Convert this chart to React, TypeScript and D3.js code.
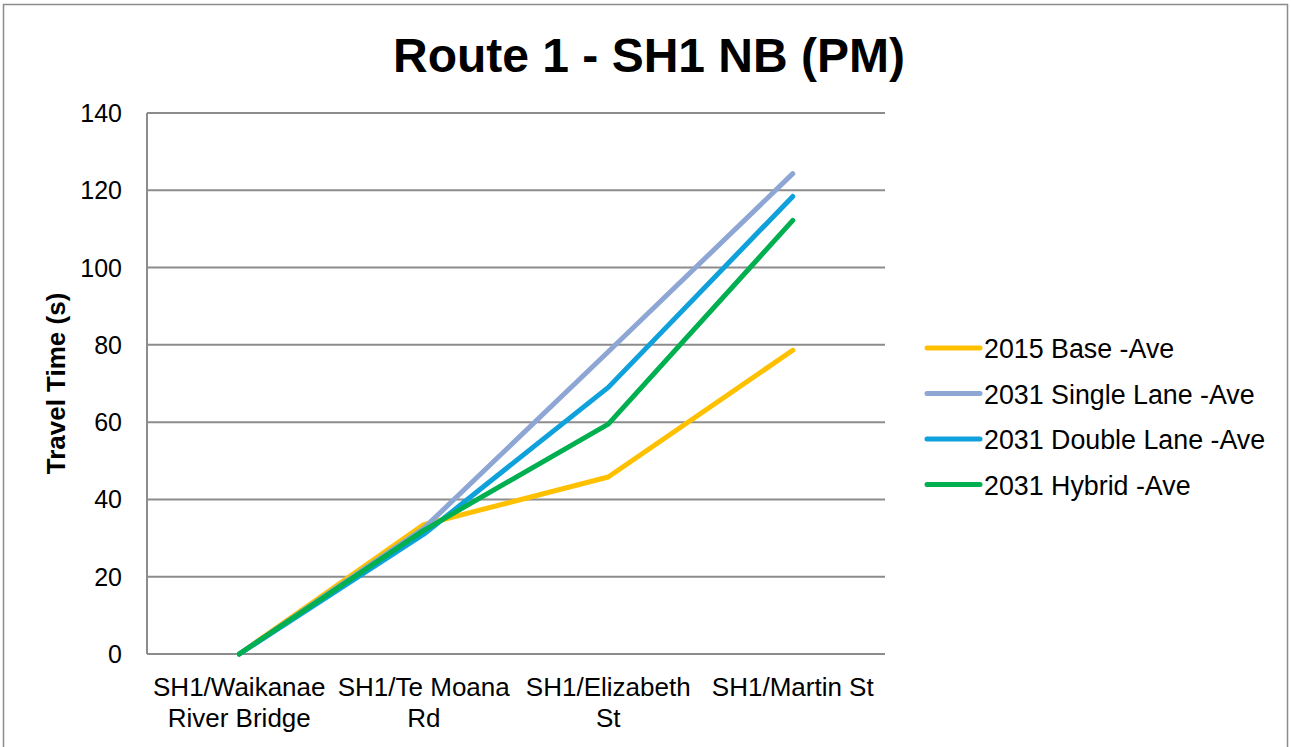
import { useRef, useEffect } from "react";
import * as d3 from "d3";

const categories = [
  ["SH1/Waikanae", "River Bridge"],
  ["SH1/Te Moana", "Rd"],
  ["SH1/Elizabeth", "St"],
  ["SH1/Martin St"],
];
const seriesNames = [
  "2015 Base -Ave",
  "2031 Single Lane -Ave",
  "2031 Double Lane -Ave",
  "2031 Hybrid -Ave",
];
const base2015 = [0, 33.5, 45.8, 78.6];
const single2031 = [0, 32.5, 78.2, 124.3];
const double2031 = [0, 31, 69, 118.4];
const hybrid2031 = [0, 32, 59.5, 112.2];
const yTicks = [0, 20, 40, 60, 80, 100, 120, 140];
const colors = ["#FFC000", "#8EA6D3", "#0EA1DB", "#00B050"];

export default function App() {
  const ref = useRef<SVGSVGElement>(null);

  useEffect(() => {
    if (!ref.current) return;
    const width = 1291;
    const height = 747;
    const marginLeft = 147;
    const plotRight = 885;
    const marginTop = 113;
    const plotBottom = 654;
    const font = "'Liberation Sans', Arial, sans-serif";

    const svg = d3.select(ref.current);
    svg.selectAll("*").remove();
    svg.attr("width", width).attr("height", height);

    svg.append("rect")
      .attr("x", 0).attr("y", 0).attr("width", width).attr("height", height)
      .attr("fill", "#fff");
    svg.append("rect")
      .attr("x", 3.5).attr("y", 4.5).attr("width", 1284).attr("height", 760)
      .attr("fill", "none").attr("stroke", "#8c8c8c").attr("stroke-width", 1.5);

    const x = d3.scaleBand<number>()
      .domain(categories.map((_, i) => i))
      .range([marginLeft, plotRight]);
    const y = d3.scaleLinear().domain([0, 140]).range([plotBottom, marginTop]);

    // grid lines
    svg.append("g")
      .selectAll("line")
      .data(yTicks)
      .join("line")
      .attr("x1", marginLeft).attr("x2", plotRight)
      .attr("y1", (d) => y(d)).attr("y2", (d) => y(d))
      .attr("stroke", "#8c8c8c").attr("stroke-width", 2);

    svg.append("line")
      .attr("x1", marginLeft).attr("x2", marginLeft)
      .attr("y1", marginTop).attr("y2", plotBottom)
      .attr("stroke", "#8c8c8c").attr("stroke-width", 2);

    // y tick labels
    svg.append("g")
      .selectAll("text")
      .data(yTicks)
      .join("text")
      .attr("x", 122).attr("y", (d) => y(d) + 9)
      .attr("text-anchor", "end")
      .attr("font-family", font).attr("font-size", 25)
      .text((d) => d);

    // category labels
    const cat = svg.append("g")
      .selectAll("text")
      .data(categories)
      .join("text")
      .attr("text-anchor", "middle")
      .attr("font-family", font).attr("font-size", 26);
    cat.each(function (lines, i) {
      d3.select(this)
        .selectAll("tspan")
        .data(lines)
        .join("tspan")
        .attr("x", x(i)! + x.bandwidth() / 2)
        .attr("y", (_, j) => 696 + j * 31)
        .text((d) => d);
    });

    // axis title
    svg.append("text")
      .attr("transform", `translate(65,${(marginTop + plotBottom) / 2}) rotate(-90)`)
      .attr("text-anchor", "middle")
      .attr("font-family", font).attr("font-size", 26).attr("font-weight", "bold")
      .text("Travel Time (s)");

    // title
    svg.append("text")
      .attr("x", 649).attr("y", 72)
      .attr("text-anchor", "middle")
      .attr("font-family", font).attr("font-size", 48).attr("font-weight", "bold")
      .text("Route 1 - SH1 NB (PM)");

    const series = [base2015, single2031, double2031, hybrid2031];
    const line = d3.line<number>()
      .x((_, i) => x(i)! + x.bandwidth() / 2)
      .y((d) => y(d));

    svg.append("g")
      .selectAll("path")
      .data(series)
      .join("path")
      .attr("d", (d) => line(d))
      .attr("fill", "none")
      .attr("stroke", (_, i) => colors[i])
      .attr("stroke-width", 5)
      .attr("stroke-linecap", "round")
      .attr("stroke-linejoin", "round");

    // legend
    const legend = svg.append("g")
      .selectAll("g")
      .data(seriesNames)
      .join("g")
      .attr("transform", (_, i) => `translate(927,${348 + i * 45.5})`);
    legend.append("line")
      .attr("x1", 0).attr("x2", 53).attr("y1", 0).attr("y2", 0)
      .attr("stroke", (_, i) => colors[i])
      .attr("stroke-width", 5)
      .attr("stroke-linecap", "round");
    legend.append("text")
      .attr("x", 57).attr("y", 10)
      .attr("font-family", font).attr("font-size", 26.8)
      .text((d) => d);
  }, []);

  return (
    <svg ref={ref} style={{ position: "absolute", left: 0, top: 0 }}></svg>
  );
}
